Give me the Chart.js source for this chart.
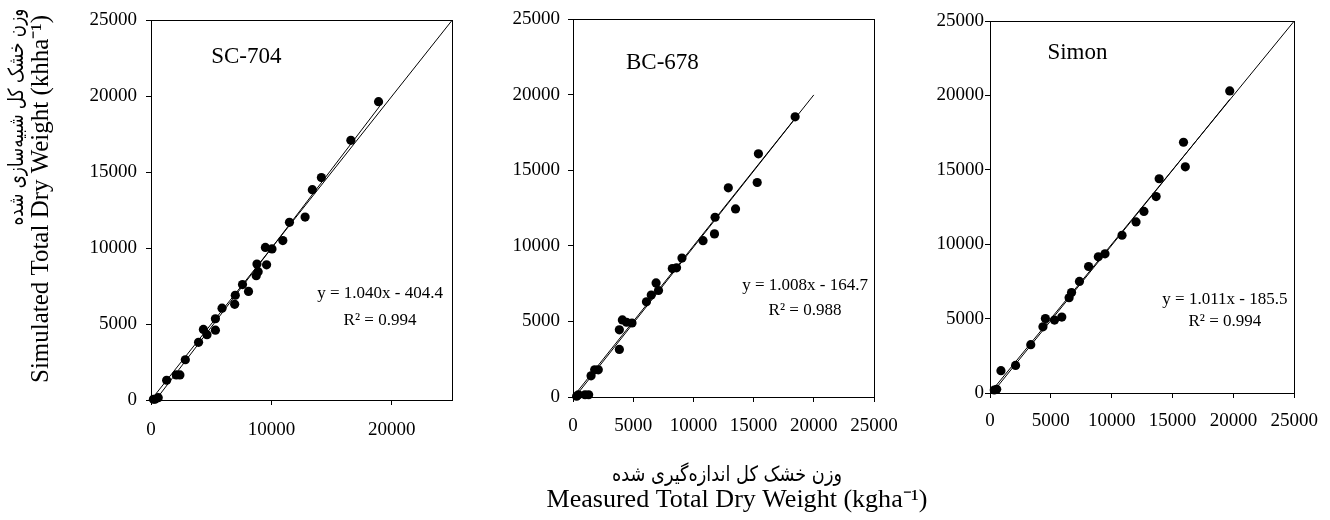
<!DOCTYPE html>
<html>
<head>
<meta charset="utf-8">
<script src="https://cdn.jsdelivr.net/npm/chart.js@4.4.1/dist/chart.umd.min.js"></script>
<style>
  html, body { margin: 0; padding: 0; background: #fff; }
  #wrap { position: relative; width: 1330px; height: 520px; overflow: hidden; }
  canvas { position: absolute; top: 0; }
</style>
</head>
<body>
<div id="wrap">
  <canvas id="c1" width="465" height="440" style="left:0px"></canvas>
  <canvas id="c2" width="480" height="520" style="left:465px"></canvas>
  <canvas id="c3" width="425" height="440" style="left:905px"></canvas>
</div>
<script>
// cultivar names and fitted equations, as printed on each panel
const names = ['SC-704', 'BC-678', 'Simon'];
const equations = ['y = 1.040x - 404.4', 'y = 1.008x - 164.7', 'y = 1.011x - 185.5'];
const r2Labels = ['R² = 0.994', 'R² = 0.988', 'R² = 0.994'];

const yTicks = [0, 5000, 10000, 15000, 20000, 25000];
const xTicksSC = [0, 10000, 20000];
const xTicksBC = [0, 5000, 10000, 15000, 20000, 25000];
const xTicksSimon = [0, 5000, 10000, 15000, 20000, 25000];

const yTitle = ['وزن خشک کل شبیه‌سازی شده', 'Simulated Total Dry Weight (khha⁻¹)'];
const xTitle = ['وزن خشک کل اندازه‌گیری شده', 'Measured Total Dry Weight (kgha⁻¹)'];

// measured (x) vs simulated (y), kg/ha
const scMeasured  = [18900, 16600, 14150, 13400, 12800, 11500, 10950, 10050, 9500, 9600, 8800, 8900, 8740, 8100, 7600, 7000, 6950, 5900, 5350, 5350, 4650, 4350, 3950, 2850, 2400, 2100, 1300, 600, 330, 200];
const scSimulated = [19650, 17100, 14650, 13850, 12050, 11700, 10500, 9950, 10050, 8900, 8950, 8450, 8190, 7150, 7600, 6900, 6300, 6050, 5350, 4600, 4300, 4650, 3800, 2650, 1650, 1650, 1300, 150, 50, 50];

const bcMeasured  = [18450, 15400, 15300, 12900, 13500, 11800, 11750, 10800, 9050, 8600, 8250, 6900, 7100, 6500, 6100, 4900, 4450, 4100, 3850, 3850, 2100, 1800, 1500, 1300, 1000, 450, 300];
const bcSimulated = [18550, 16100, 14200, 13850, 12450, 11900, 10800, 10350, 9200, 8550, 8500, 7550, 7050, 6750, 6300, 4900, 4950, 5100, 4450, 3150, 1800, 1800, 1400, 150, 150, 150, 50];

const simonMeasured  = [19700, 15900, 16050, 13900, 13650, 12650, 12000, 10850, 9450, 8900, 8100, 7350, 6700, 6500, 5900, 5300, 4550, 4350, 3350, 2100, 900, 550, 350];
const simonSimulated = [20300, 16850, 15200, 14400, 13200, 12200, 11500, 10600, 9350, 9150, 8500, 7500, 6750, 6400, 5100, 4900, 5000, 4450, 3250, 1850, 1500, 250, 200];

// 1:1 lines and trend lines (end points)
const oneToOneSC = [[0, 0], [25000, 25000]];
const oneToOneBC = [[0, 0], [20000, 20000]];
const oneToOneSimon = [[0, 0], [25000, 25000]];
const fitSC = [[389, 0], [19000, 19356]];
const fitBC = [[163, 0], [18450, 18433]];
const fitSimon = [[183, 0], [19700, 19731]];

const SERIF = "'Liberation Serif', serif";
const FA = "'DejaVu Sans', sans-serif";
Chart.defaults.font.family = SERIF;
Chart.defaults.color = '#000';

const toXY = (xs, ys) => xs.map((v, i) => ({ x: v, y: ys[i] }));
const pairs = (arr) => arr.map(p => ({ x: p[0], y: p[1] }));

// plot box + in-panel text (name, equation, R²)
const frame = {
  id: 'frame',
  afterDatasetsDraw(chart, args, opts) {
    const { ctx, chartArea: a, scales: { x, y } } = chart;
    ctx.save();
    ctx.strokeStyle = '#000';
    ctx.lineWidth = 1;
    ctx.strokeRect(Math.round(a.left) + 0.5, Math.round(a.top) + 0.5,
      Math.round(a.right - a.left), Math.round(a.bottom - a.top));
    ctx.fillStyle = '#000';
    ctx.textBaseline = 'middle';
    ctx.font = '23px ' + SERIF;
    ctx.textAlign = 'left';
    ctx.fillText(opts.name, x.getPixelForValue(opts.namePos[0]), y.getPixelForValue(opts.namePos[1]));
    ctx.font = '17px ' + SERIF;
    ctx.textAlign = 'center';
    ctx.fillText(opts.eq, x.getPixelForValue(opts.eqPos[0]), y.getPixelForValue(opts.eqPos[1]));
    ctx.fillText(opts.r2, x.getPixelForValue(opts.eqPos[0]), y.getPixelForValue(opts.r2Y));
    ctx.restore();
  }
};

// shared axis titles, drawn on the panel that carries them
const axisTitles = {
  id: 'axisTitles',
  afterDraw(chart, args, opts) {
    const ctx = chart.ctx;
    (opts.items || []).forEach(t => {
      ctx.save();
      ctx.font = t.size + 'px ' + t.family;
      ctx.fillStyle = '#000';
      ctx.textAlign = 'center';
      ctx.textBaseline = 'middle';
      ctx.translate(t.x, t.y);
      if (t.rotate) ctx.rotate(-Math.PI / 2);
      const w = ctx.measureText(t.text).width;
      ctx.scale(t.width / w, 1);
      ctx.fillText(t.text, 0, 0);
      ctx.restore();
    });
  }
};

function lineSet(pts) {
  return { data: pairs(pts), showLine: true, borderColor: '#000', borderWidth: 1,
           pointRadius: 0, fill: false };
}

function makeChart(id, p) {
  return new Chart(document.getElementById(id), {
    type: 'scatter',
    data: {
      datasets: [
        { data: p.points, pointRadius: 4.6, pointBackgroundColor: '#000', pointBorderWidth: 0, clip: false },
        lineSet(p.fit),
        lineSet(p.oneToOne)
      ]
    },
    options: {
      responsive: false,
      animation: false,
      events: [],
      layout: { padding: p.pad },
      plugins: {
        legend: { display: false },
        tooltip: { enabled: false },
        frame: p.labels,
        axisTitles: { items: p.titles || [] }
      },
      scales: {
        x: {
          type: 'linear', min: 0, max: 25000,
          afterBuildTicks: s => { s.ticks = p.xTicks.map(v => ({ value: v })); },
          afterFit: s => { s.height = p.xh; },
          grid: { drawOnChartArea: false, tickLength: 5, color: '#000' },
          border: { display: false },
          ticks: { padding: p.xPad, font: { size: 19 }, color: '#000', maxRotation: 0, autoSkip: false,
                   callback: v => String(v) },
          title: { display: false }
        },
        y: {
          type: 'linear', min: 0, max: 25000,
          afterBuildTicks: s => { s.ticks = yTicks.map(v => ({ value: v })); },
          afterFit: s => { s.width = p.yw; },
          grid: { drawOnChartArea: false, tickLength: 5, color: '#000' },
          border: { display: false },
          ticks: { padding: p.yPad, font: { size: 19 }, color: '#000', autoSkip: false,
                   callback: v => String(v) },
          title: { display: false }
        }
      }
    },
    plugins: [frame, axisTitles]
  });
}

makeChart('c1', {
  points: toXY(scMeasured, scSimulated), fit: fitSC, oneToOne: oneToOneSC,
  xTicks: xTicksSC, pad: { left: 0, right: 13, top: 19, bottom: 0 }, xh: 40, yw: 151, xPad: 14, yPad: 9,
  labels: { name: names[0], namePos: [5000, 22600], eq: equations[0], r2: r2Labels[0], eqPos: [19020, 7020], r2Y: 5250 },
  titles: [
    { text: yTitle[0], family: FA, size: 21, x: 18, y: 117, width: 217, rotate: true },
    { text: yTitle[1], family: SERIF, size: 25, x: 41, y: 199, width: 368, rotate: true }
  ]
});

makeChart('c2', {
  points: toXY(bcMeasured, bcSimulated), fit: fitBC, oneToOne: oneToOneBC,
  xTicks: xTicksBC, pad: { left: 0, right: 71, top: 19, bottom: 0 }, xh: 123, yw: 108, xPad: 13, yPad: 8,
  labels: { name: names[1], namePos: [4400, 22100], eq: equations[1], r2: r2Labels[1], eqPos: [19270, 7400], r2Y: 5750 },
  titles: [
    { text: xTitle[0], family: FA, size: 21, x: 262, y: 476, width: 230 },
    { text: xTitle[1], family: SERIF, size: 25, x: 272, y: 500, width: 381 }
  ]
});

makeChart('c3', {
  points: toXY(simonMeasured, simonSimulated), fit: fitSimon, oneToOne: oneToOneSimon,
  xTicks: xTicksSimon, pad: { left: 0, right: 33, top: 21, bottom: 0 }, xh: 47, yw: 85, xPad: 12, yPad: 1,
  labels: { name: names[2], namePos: [4720, 22850], eq: equations[2], r2: r2Labels[2], eqPos: [19300, 6250], r2Y: 4770 }
});
</script>
</body>
</html>
